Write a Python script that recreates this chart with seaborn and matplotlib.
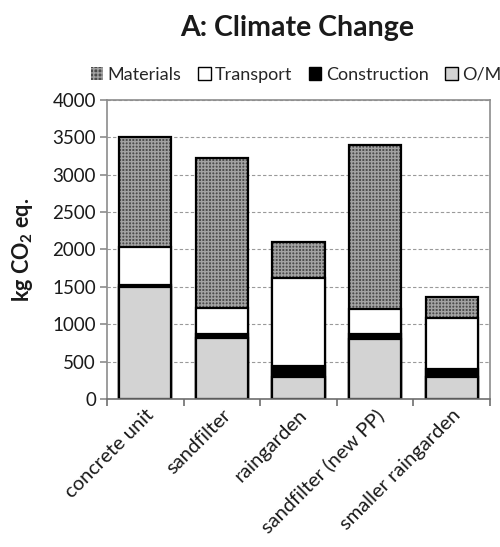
import matplotlib
matplotlib.use("Agg")
import matplotlib.pyplot as plt
from matplotlib.patches import Patch
from matplotlib.ticker import MultipleLocator, FixedLocator
import numpy as np
import pandas as pd
import seaborn as sns

# Life-cycle climate impact per stormwater treatment option (kg CO2 eq.)
options = ["concrete unit", "sandfilter", "raingarden", "sandfilter (new PP)", "smaller raingarden"]
om = [1500, 810, 300, 808, 300]
construction = [30, 65, 135, 63, 95]
transport = [500, 340, 1190, 336, 695]
materials = [1480, 2010, 480, 2190, 280]

sns.set_theme(style="white")
plt.rcParams["font.family"] = ["Lato", "DejaVu Sans"]
plt.rcParams["mathtext.fontset"] = "custom"
plt.rcParams["mathtext.rm"] = "Lato"
plt.rcParams["mathtext.bf"] = "Lato:bold"
plt.rcParams["hatch.linewidth"] = 1.0

df = pd.DataFrame({"option": options, "O/M": om, "Construction": construction,
                   "Transport": transport, "Materials": materials})
df["c1"] = df["O/M"]
df["c2"] = df["c1"] + df["Construction"]
df["c3"] = df["c2"] + df["Transport"]
df["c4"] = df["c3"] + df["Materials"]

fig = plt.figure(figsize=(5.0, 5.47), dpi=100)
ax = fig.add_axes([0.214, 0.2706, 0.766, 0.5466])

W = 0.68
LW = 1.6
MAT_FACE = "#4c4c4c"
MAT_HATCH = "#a2a2a2"
TXT = "#1a1a1a"

# materials layer (full stack height) with a fine grid texture
n0 = len(ax.patches)
sns.barplot(data=df, x="option", y="c4", color=MAT_FACE, width=W, ax=ax,
            saturation=1, linewidth=0)
for p in ax.patches[n0:]:
    p.set_facecolor(MAT_FACE)
    p.set_edgecolor(MAT_HATCH)
    p.set_linewidth(0)
    p.set_hatch("+++++")
# black outline of each full stack
sns.barplot(data=df, x="option", y="c4", color="black", fill=False, width=W,
            ax=ax, linewidth=LW)

# lower layers drawn on top of the taller ones
for col, face in [("c3", "white"), ("c2", "black"), ("c1", "#d3d3d3")]:
    sns.barplot(data=df, x="option", y=col, color=face, width=W, ax=ax,
                saturation=1, edgecolor="black", linewidth=LW)

ax.set_xlim(-0.5, len(options) - 0.5)
ax.set_ylim(0, 4000)
ax.yaxis.set_major_locator(MultipleLocator(500))
ax.set_axisbelow(True)
ax.grid(axis="y", color="#9a9a9a", linestyle=(0, (3, 2)), linewidth=0.8)
ax.grid(axis="x", visible=False)

for side in ["left", "right", "top", "bottom"]:
    ax.spines[side].set_visible(True)
    ax.spines[side].set_color("#8c8c8c")
    ax.spines[side].set_linewidth(1.2)
ax.spines["bottom"].set_color("#6e6e6e")

# x tick marks sit between categories; labels at category centres
ax.xaxis.set_minor_locator(FixedLocator(np.arange(-0.5, len(options), 1.0)))
ax.tick_params(axis="x", which="major", length=0, pad=5)
ax.tick_params(axis="x", which="minor", bottom=True, direction="out",
               length=5, width=1.2, color="#6e6e6e")
ax.tick_params(axis="y", left=True, direction="out", length=5, width=1.2,
               color="#8c8c8c", labelsize=13.5, pad=3, labelcolor=TXT)
ax.set_xticks(range(len(options)))
ax.set_xticklabels(options, rotation=45, ha="right", rotation_mode="anchor",
                   fontsize=14.5, color=TXT)
ax.set_xlabel("")
ax.set_ylabel(r"kg CO$_\mathbf{2}$ eq.", fontsize=15.5, fontweight="bold",
              labelpad=12, color=TXT)

fig.text(0.594, 0.948, "A: Climate Change", ha="center", va="center",
         fontsize=20.5, fontweight="bold", color=TXT)

handles = [
    Patch(facecolor=MAT_FACE, edgecolor=MAT_HATCH, hatch="++++", linewidth=0),
    Patch(facecolor="white", edgecolor="black", linewidth=1.0),
    Patch(facecolor="black", edgecolor="black", linewidth=1.0),
    Patch(facecolor="#d3d3d3", edgecolor="black", linewidth=1.0),
]
fig.legend(handles, ["Materials", "Transport", "Construction", "O/M"],
           loc="center", bbox_to_anchor=(0.592, 0.863), ncol=4, frameon=False,
           fontsize=13, handlelength=0.7, handleheight=0.7,
           handletextpad=0.25, columnspacing=0.9, borderpad=0)

fig.savefig("out.png", dpi=100)
